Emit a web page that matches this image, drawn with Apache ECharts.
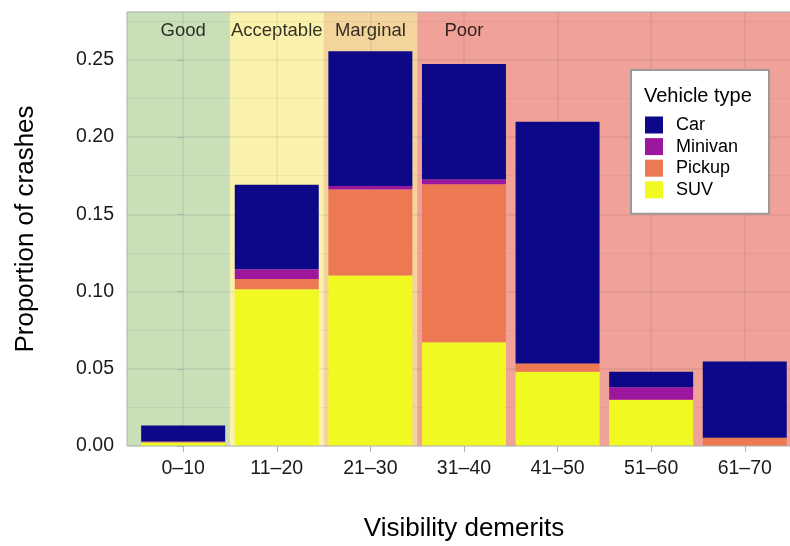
<!DOCTYPE html>
<html>
<head>
<meta charset="utf-8">
<script src="https://cdn.jsdelivr.net/npm/echarts@6/dist/echarts.min.js"></script>
<style>
  html, body { margin: 0; padding: 0; background: #fff; }
  #chart { width: 790px; height: 546px; }
</style>
</head>
<body>
<div id="chart"></div>
<script>
// data
var categories = ["0–10", "11–20", "21–30", "31–40", "41–50", "51–60", "61–70"];
var suv     = [0.0024, 0.1015, 0.1104, 0.0672, 0.0480, 0.0299, 0.0000];
var pickup  = [0.0000, 0.0067, 0.0556, 0.1023, 0.0054, 0.0000, 0.0053];
var minivan = [0.0007, 0.0063, 0.0024, 0.0030, 0.0000, 0.0082, 0.0000];
var car     = [0.0102, 0.0546, 0.0872, 0.0749, 0.1565, 0.0099, 0.0494];

// rating zones, by index of first / last category
var ratingNames = ["Good", "Acceptable", "Marginal", "Poor"];
var ratingFirst = [0, 1, 2, 3];
var ratingLast  = [0, 1, 2, 6];

var yTicks = [0, 0.05, 0.10, 0.15, 0.20, 0.25];

// layout
var FONT = "Liberation Sans, Arial, sans-serif";
var catW = 93.6;          // px per category
var pad = 0.6;            // ggplot discrete expansion
var plotLeft = 127, plotTop = 12, plotH = 434;
var yMax = 0.281;
var nCat = categories.length;
var xMin = -pad, xMax = nCat - 1 + pad;
var bandColors = ["#c8dfb8", "#faf2ac", "#f4d49d", "#f0a298"];

var chart = echarts.init(document.getElementById("chart"));

var bandAreas = ratingNames.map(function (n, i) {
  var a = ratingFirst[i] === 0 ? xMin : ratingFirst[i] - 0.5;
  var b = ratingLast[i] === nCat - 1 ? xMax : ratingLast[i] + 0.5;
  return [
    { xAxis: a, yAxis: 0, itemStyle: { color: bandColors[i] } },
    { xAxis: b, yAxis: yMax }
  ];
});
var vLines = categories.map(function (c, i) { return { xAxis: i }; });
var bandLabels = ratingNames.map(function (n, i) { return { value: [ratingFirst[i], 0.269], name: n }; });

function barSeries(name, data, color) {
  return {
    name: name,
    type: "bar",
    stack: "total",
    xAxisIndex: 0,
    yAxisIndex: 0,
    barWidth: 84,
    z: 3,
    data: data,
    itemStyle: { color: color },
    emphasis: { disabled: true }
  };
}

var option = {
  animation: false,
  textStyle: { fontFamily: FONT },
  title: {
    text: "Vehicle type",
    left: 639,
    top: 81,
    z: 10,
    textStyle: { fontFamily: FONT, fontSize: 20, fontWeight: "normal", color: "#000" }
  },
  legend: {
    data: ["Car", "Minivan", "Pickup", "SUV"],
    orient: "vertical",
    left: 631,
    top: 70,
    padding: [46, 31, 15, 14],
    itemWidth: 18,
    itemHeight: 17,
    itemGap: 3.6,
    icon: "rect",
    backgroundColor: "#fff",
    borderColor: "#9a9a9a",
    borderWidth: 2,
    borderRadius: 0,
    selectedMode: false,
    textStyle: { fontFamily: FONT, fontSize: 18, color: "#000", padding: [0, 0, 0, 8] }
  },
  grid: [
    // bars
    { left: plotLeft + (pad - 0.5) * catW, top: plotTop, width: nCat * catW, height: plotH,
      outerBoundsMode: "none" },
    // background panel
    { left: plotLeft, top: plotTop, width: (xMax - xMin) * catW, height: plotH,
      outerBoundsMode: "none",
      show: true, z: 5, backgroundColor: "transparent", borderColor: "#b3b3b3", borderWidth: 1 }
  ],
  xAxis: [
    {
      type: "category",
      gridIndex: 0,
      data: categories,
      name: "Visibility demerits",
      nameLocation: "middle",
      nameGap: 70,
      nameTextStyle: { fontFamily: FONT, fontSize: 26, color: "#000" },
      axisLine: { show: false },
      axisTick: { show: true, alignWithLabel: true, length: 6, lineStyle: { color: "#b3b3b3" } },
      axisLabel: { fontFamily: FONT, fontSize: 19.5, color: "#1a1a1a", margin: 13 },
      splitLine: { show: false }
    },
    {
      type: "value",
      gridIndex: 1,
      min: xMin,
      max: xMax,
      show: false
    }
  ],
  yAxis: [
    { type: "value", gridIndex: 0, min: 0, max: yMax, show: false },
    {
      type: "value",
      gridIndex: 1,
      min: 0,
      max: yMax,
      interval: 0.05,
      z: 1,
      name: "Proportion of crashes",
      nameLocation: "middle",
      nameGap: 88,
      nameTextStyle: { fontFamily: FONT, fontSize: 26, color: "#000" },
      axisLine: { show: false },
      axisTick: { show: true, length: 6, lineStyle: { color: "#b3b3b3" } },
      axisLabel: {
        fontFamily: FONT, fontSize: 19.5, color: "#1a1a1a", margin: 13,
        showMaxLabel: false,
        formatter: function (v) { return yTicks.indexOf(+v.toFixed(2)) >= 0 ? v.toFixed(2) : ""; }
      },
      splitLine: { show: true, lineStyle: { color: "rgba(0,0,0,0.07)", width: 1.5 } },
      minorTick: { show: false, splitNumber: 2 },
      minorSplitLine: { show: true, lineStyle: { color: "rgba(0,0,0,0.045)", width: 1 } }
    }
  ],
  series: [
    {
      // rating zones + zone labels
      type: "scatter",
      xAxisIndex: 1,
      yAxisIndex: 1,
      z: 0,
      symbolSize: 0,
      silent: true,
      data: bandLabels,
      label: {
        show: true,
        position: "inside",
        formatter: "{b}",
        fontFamily: FONT,
        fontSize: 18.5,
        color: "#000"
      },
      markArea: { silent: true, z: 0, data: bandAreas }
    },
    {
      // vertical grid lines at category centres
      type: "line",
      xAxisIndex: 1,
      yAxisIndex: 1,
      z: 1,
      data: [],
      silent: true,
      markLine: {
        silent: true,
        z: 1,
        symbol: "none",
        label: { show: false },
        lineStyle: { type: "solid", color: "rgba(0,0,0,0.07)", width: 1.5 },
        data: vLines
      }
    },
    barSeries("SUV", suv, "#f0f921"),
    barSeries("Pickup", pickup, "#ed7953"),
    barSeries("Minivan", minivan, "#9c179e"),
    barSeries("Car", car, "#0d0887")
  ]
};

chart.setOption(option);
</script>
</body>
</html>
